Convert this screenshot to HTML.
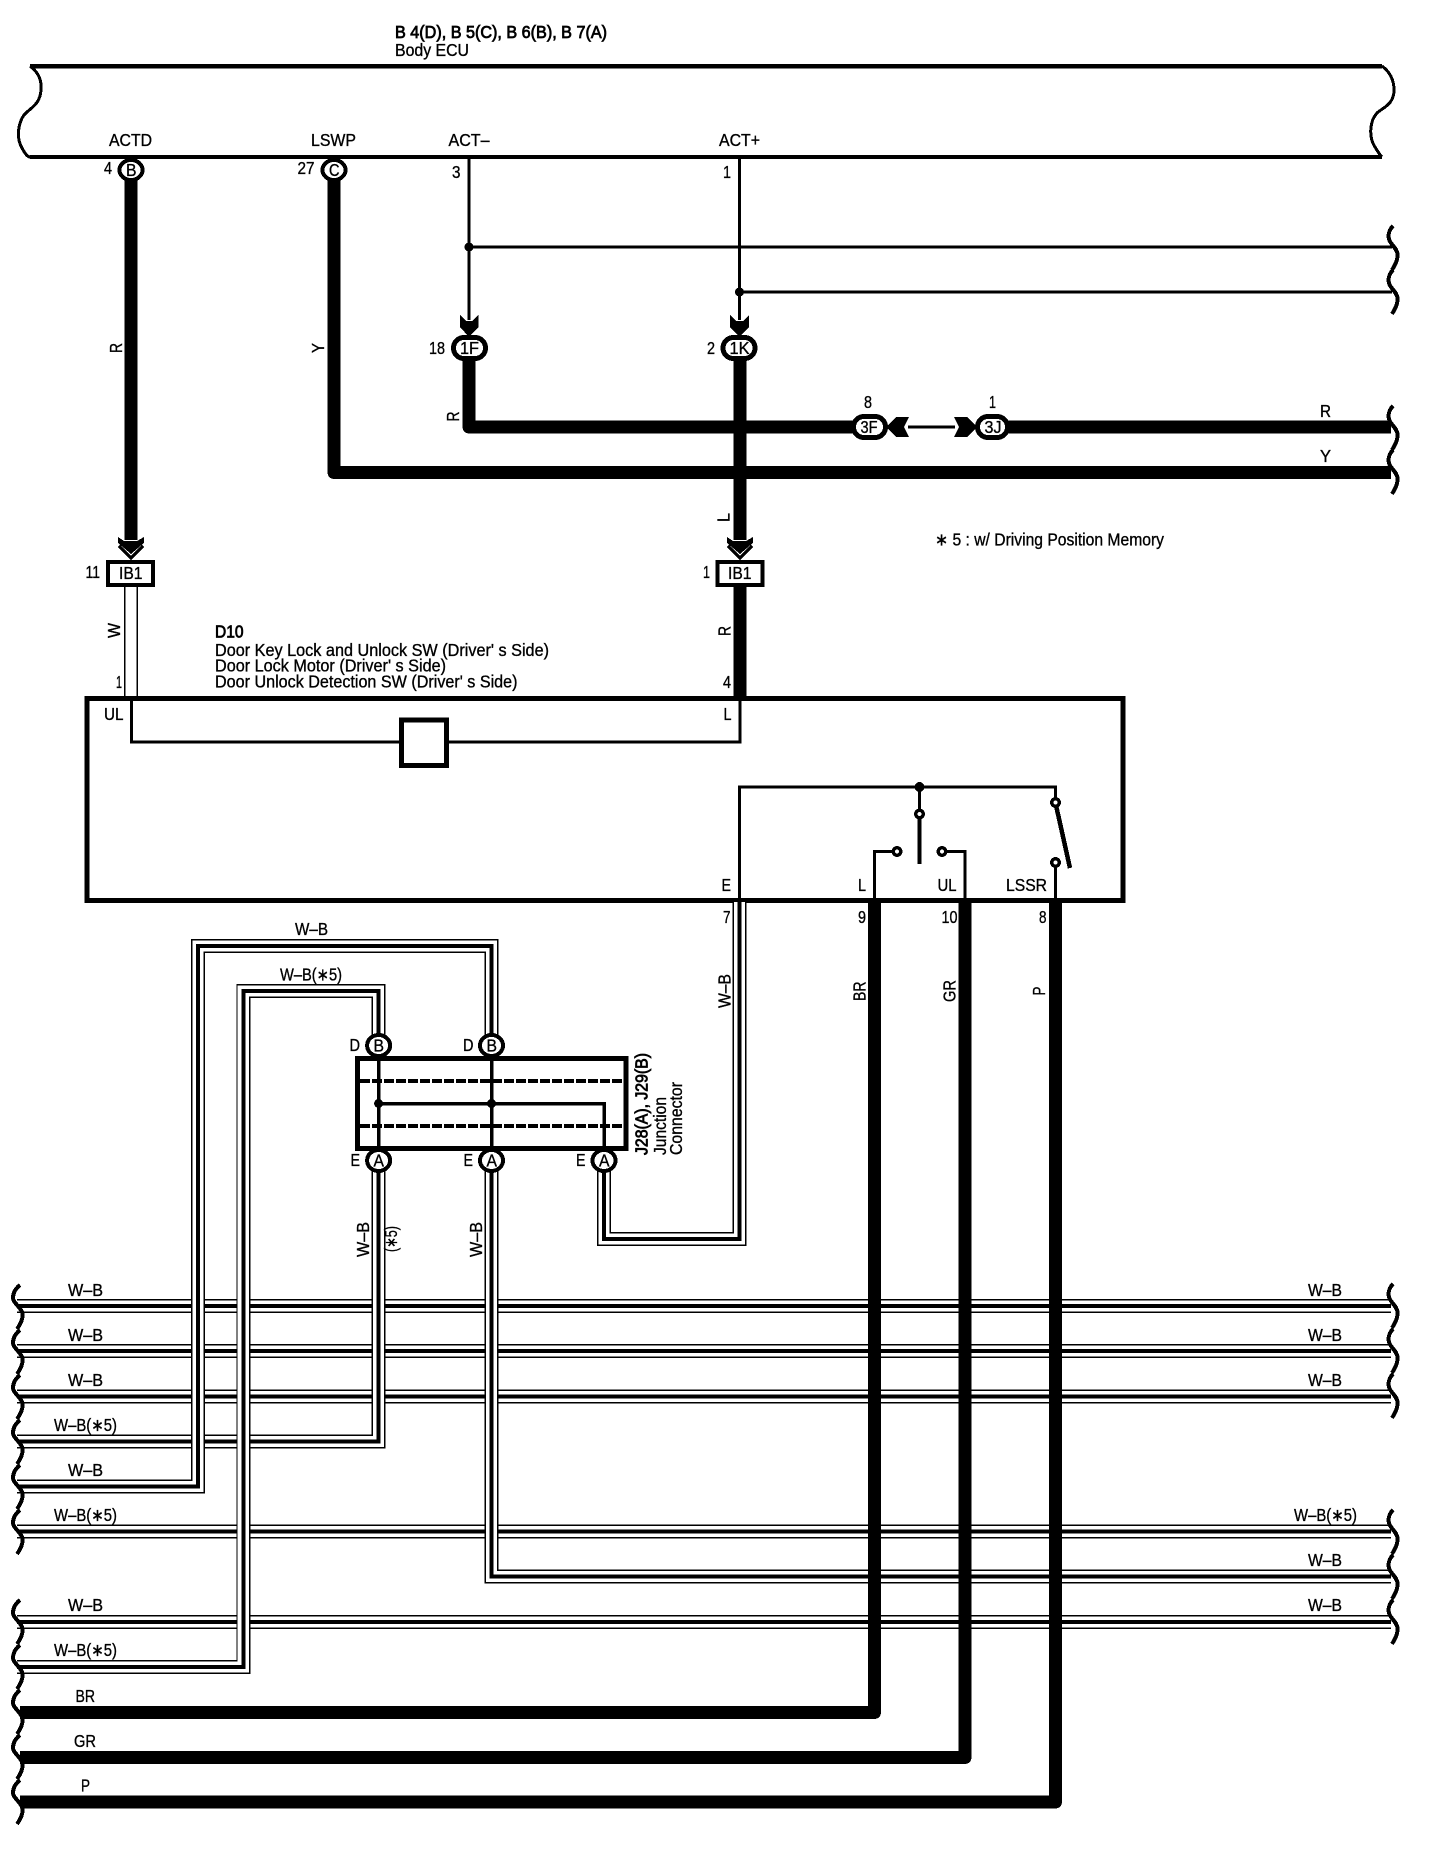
<!DOCTYPE html>
<html><head><meta charset="utf-8"><style>
html,body{margin:0;padding:0;background:#fff}
svg{display:block}
text{font-family:"Liberation Sans",sans-serif;font-size:17.5px;fill:#000;stroke:#000;stroke-width:.35}
.b{stroke-width:.8}
.o{fill:#fff;stroke:#000;stroke-width:5}
ellipse.o{stroke-width:4}
.th{fill:none;stroke:#000;stroke-width:13;stroke-linejoin:round}
.ln{fill:none;stroke:#000;stroke-width:3}
.w1{fill:none;stroke:#000;stroke-width:14}
.w2{fill:none;stroke:#fff;stroke-width:11.2}
.w3{fill:none;stroke:#000;stroke-width:4}
.wave{fill:none;stroke:#000;stroke-width:4}
</style></head><body>
<svg xmlns="http://www.w3.org/2000/svg" width="1440" height="1854" viewBox="0 0 1440 1854" shape-rendering="crispEdges">
<rect width="1440" height="1854" fill="#fff"/>
<defs>
<path id="wr" d="M1393 0C1389 4 1388 9 1389 13C1390 18 1397 22 1397.5 28C1398 34 1395 39 1392 44" class="wave"/>
<path id="wl" d="M20 0C15 4 13 8 13 13C13 18 22 23 22.5 29C23 35 20 40 17 44" class="wave"/>
</defs>

<!-- ECU -->
<path d="M30 66H1382" fill="none" stroke="#000" stroke-width="4.5"/>
<path d="M30 157H1382" fill="none" stroke="#000" stroke-width="4"/>
<path d="M30 66C38 72 42 80 41 90C40 105 30 108 24 115C17 125 17 140 22 148C25 154 28 157 30 157" fill="none" stroke="#000" stroke-width="3"/>
<path d="M1382 66C1390 72 1394 80 1394 90C1394 105 1382 108 1377 113C1369 122 1369 138 1375 147C1378 152 1380 155 1382 157" fill="none" stroke="#000" stroke-width="3"/>
<text class="b" x="395" y="38" textLength="212" lengthAdjust="spacingAndGlyphs">B 4(D), B 5(C), B 6(B), B 7(A)</text>
<text x="395" y="56" textLength="74" lengthAdjust="spacingAndGlyphs">Body ECU</text>
<text x="109" y="146" textLength="43" lengthAdjust="spacingAndGlyphs">ACTD</text>
<text x="311" y="146" textLength="45" lengthAdjust="spacingAndGlyphs">LSWP</text>
<text x="448.5" y="146" textLength="41" lengthAdjust="spacingAndGlyphs">ACT–</text>
<text x="719" y="146" textLength="41" lengthAdjust="spacingAndGlyphs">ACT+</text>
<text x="104" y="174" textLength="8" lengthAdjust="spacingAndGlyphs">4</text>
<text x="297.5" y="174" textLength="17" lengthAdjust="spacingAndGlyphs">27</text>
<text x="452" y="178" textLength="8.5" lengthAdjust="spacingAndGlyphs">3</text>
<text x="723" y="178" textLength="8" lengthAdjust="spacingAndGlyphs">1</text>

<!-- top wires -->
<path class="th" d="M131 180V540"/>
<path class="th" d="M334 180V472.5H1391"/>
<path class="th" d="M469 358V427H855"/>
<path class="th" d="M1006 427H1391"/>
<path class="th" d="M740 358V540"/>
<path class="ln" d="M469 157V320M469 247H1392M739.5 157V320M739.5 292H1392" stroke-width="3.5"/>
<path class="ln" d="M908 427H955"/>
<circle cx="469" cy="247" r="4.5"/>
<circle cx="739.5" cy="292" r="4.5"/>

<!-- arrows down into 1F/1K -->
<path d="M460 315L466 321H472L478.5 315V327L469 337L460 327Z"/>
<path d="M730 315L736 321H743L749 315V327L739.5 337L730 327Z"/>
<!-- 3F / 3J arrows -->
<path d="M886 427L896 417H909L904 427L909 437H896Z"/>
<path d="M977 427L967 417H954L959 427L954 437H967Z"/>
<!-- IB1 arrows -->
<path d="M118 537L124 541H137L144 537V543L131 554L118 543Z"/>
<path d="M119 546L131 558L143 546" fill="none" stroke="#000" stroke-width="3"/>
<path d="M727 537L733 541H746L753 537V543L740 554L727 543Z"/>
<path d="M728 546L740 558L752 546" fill="none" stroke="#000" stroke-width="3"/>

<!-- connectors top -->
<ellipse class="o" cx="131" cy="170" rx="11.5" ry="10"/>
<ellipse class="o" cx="334" cy="170" rx="11.5" ry="10"/>
<text x="126" y="176" textLength="10.5" lengthAdjust="spacingAndGlyphs">B</text>
<text x="329" y="176" textLength="10.5" lengthAdjust="spacingAndGlyphs">C</text>
<rect class="o" x="453.5" y="337.5" width="32" height="21" rx="10.5"/>
<rect class="o" x="723" y="337.5" width="32" height="21" rx="10.5"/>
<rect class="o" x="853.5" y="416.5" width="32" height="21" rx="10.5"/>
<rect class="o" x="977.5" y="416.5" width="30" height="21" rx="10.5"/>
<text x="460" y="354" textLength="19" lengthAdjust="spacingAndGlyphs">1F</text>
<text x="729.5" y="354" textLength="20" lengthAdjust="spacingAndGlyphs">1K</text>
<text x="860.5" y="433" textLength="17" lengthAdjust="spacingAndGlyphs">3F</text>
<text x="984.5" y="433" textLength="17" lengthAdjust="spacingAndGlyphs">3J</text>
<text x="429" y="354" textLength="16" lengthAdjust="spacingAndGlyphs">18</text>
<text x="707" y="354" textLength="8" lengthAdjust="spacingAndGlyphs">2</text>
<text x="864" y="408" textLength="8" lengthAdjust="spacingAndGlyphs">8</text>
<text x="989" y="408" textLength="7" lengthAdjust="spacingAndGlyphs">1</text>
<text x="1320" y="417" textLength="11" lengthAdjust="spacingAndGlyphs">R</text>
<text x="1320" y="462" textLength="11" lengthAdjust="spacingAndGlyphs">Y</text>
<text x="935" y="545.5" textLength="229" lengthAdjust="spacingAndGlyphs">∗ 5 : w/ Driving Position Memory</text>

<!-- rotated labels top -->
<text transform="translate(122 353) rotate(-90)" textLength="10" lengthAdjust="spacingAndGlyphs">R</text>
<text transform="translate(324 353) rotate(-90)" textLength="10" lengthAdjust="spacingAndGlyphs">Y</text>
<text transform="translate(459 421.5) rotate(-90)" textLength="10" lengthAdjust="spacingAndGlyphs">R</text>
<text transform="translate(729.5 522) rotate(-90)" textLength="9" lengthAdjust="spacingAndGlyphs">L</text>
<text transform="translate(120 638) rotate(-90)" textLength="15" lengthAdjust="spacingAndGlyphs">W</text>
<text transform="translate(730.5 636) rotate(-90)" textLength="10" lengthAdjust="spacingAndGlyphs">R</text>

<!-- IB1 -->
<rect x="108" y="562" width="45" height="23" fill="#fff" stroke="#000" stroke-width="4"/>
<rect x="717.5" y="562" width="45" height="23" fill="#fff" stroke="#000" stroke-width="4"/>
<text x="119" y="579" textLength="23.5" lengthAdjust="spacingAndGlyphs">IB1</text>
<text x="728" y="579" textLength="23.5" lengthAdjust="spacingAndGlyphs">IB1</text>
<text x="85.5" y="578" textLength="14.5" lengthAdjust="spacingAndGlyphs">11</text>
<text x="703" y="578" textLength="7" lengthAdjust="spacingAndGlyphs">1</text>
<path d="M124.7 587V697M137 587V697" fill="none" stroke="#000" stroke-width="1.5"/>
<rect x="733.5" y="587" width="13" height="110"/>

<!-- D10 labels -->
<text class="b" x="215" y="637.5" textLength="28.5" lengthAdjust="spacingAndGlyphs">D10</text>
<text x="215" y="656" textLength="334" lengthAdjust="spacingAndGlyphs">Door Key Lock and Unlock SW (Driver'  s Side)</text>
<text x="215" y="671.5" textLength="231" lengthAdjust="spacingAndGlyphs">Door Lock Motor (Driver'  s Side)</text>
<text x="215" y="687.5" textLength="302.5" lengthAdjust="spacingAndGlyphs">Door Unlock Detection SW (Driver'  s Side)</text>
<text x="116" y="688" textLength="6" lengthAdjust="spacingAndGlyphs">1</text>
<text x="723" y="688" textLength="8" lengthAdjust="spacingAndGlyphs">4</text>

<!-- main box -->
<rect x="87" y="698.5" width="1036" height="202" fill="none" stroke="#000" stroke-width="5"/>
<path class="ln" d="M131.5 700V742H740V700"/>
<rect x="401.5" y="720" width="45" height="45.5" fill="#fff" stroke="#000" stroke-width="5"/>
<text x="104" y="720" textLength="19.5" lengthAdjust="spacingAndGlyphs">UL</text>
<text x="723.5" y="720" textLength="8" lengthAdjust="spacingAndGlyphs">L</text>
<text x="721.5" y="891" textLength="9.5" lengthAdjust="spacingAndGlyphs">E</text>
<text x="858" y="891" textLength="8" lengthAdjust="spacingAndGlyphs">L</text>
<text x="937.5" y="891" textLength="19" lengthAdjust="spacingAndGlyphs">UL</text>
<text x="1006" y="891" textLength="41" lengthAdjust="spacingAndGlyphs">LSSR</text>
<text x="723" y="923" textLength="7.5" lengthAdjust="spacingAndGlyphs">7</text>
<text x="858" y="923" textLength="8" lengthAdjust="spacingAndGlyphs">9</text>
<text x="941.5" y="923" textLength="16" lengthAdjust="spacingAndGlyphs">10</text>
<text x="1039" y="923" textLength="7.5" lengthAdjust="spacingAndGlyphs">8</text>

<!-- switches -->
<path class="ln" d="M739.5 900V787H1055.5V802M919.5 787V814"/>
<circle cx="919.5" cy="787" r="5"/>
<path d="M919.5 814V864" fill="none" stroke="#000" stroke-width="4"/>
<path class="ln" d="M874.5 900V851.5H897M965 900V851.5H942M1055.5 863V900"/>
<path d="M1055.5 803L1070 868" fill="none" stroke="#000" stroke-width="4.5"/>
<circle cx="919.5" cy="814" r="3.7" fill="#fff" stroke="#000" stroke-width="3.5"/>
<circle cx="897" cy="851.5" r="3.7" fill="#fff" stroke="#000" stroke-width="3.5"/>
<circle cx="942" cy="851.5" r="3.7" fill="#fff" stroke="#000" stroke-width="3.5"/>
<circle cx="1055.5" cy="802.5" r="3.7" fill="#fff" stroke="#000" stroke-width="3.5"/>
<circle cx="1055.5" cy="862.5" r="3.7" fill="#fff" stroke="#000" stroke-width="3.5"/>

<!-- W-B horizontal buses -->
<path class="w1" d="M17 1306H1391M17 1351H1391M17 1396.5H1391M17 1531.5H1391M17 1622H1391"/>
<path class="w2" d="M17 1306H1391M17 1351H1391M17 1396.5H1391M17 1531.5H1391M17 1622H1391"/>
<path class="w3" d="M17 1306H1391M17 1351H1391M17 1396.5H1391M17 1531.5H1391M17 1622H1391"/>

<!-- wire 1576 + 491 -->
<path class="w1" d="M491.5 1170V1576.5H1391"/><path class="w2" d="M491.5 1170V1576.5H1391"/><path class="w3" d="M491.5 1170V1576.5H1391"/>
<!-- wire 1441 + 379 -->
<path class="w1" d="M17 1441.5H378.6V1170"/><path class="w2" d="M17 1441.5H378.6V1170"/><path class="w3" d="M17 1441.5H378.6V1170"/>
<!-- wire 1486 up to top B -->
<path class="w1" d="M17 1486.5H198V946H491.5V1035"/><path class="w2" d="M17 1486.5H198V946H491.5V1035"/><path class="w3" d="M17 1486.5H198V946H491.5V1035"/>
<!-- wire 1667 up to top B -->
<path class="w1" d="M17 1667H243.3V991H378.6V1035"/><path class="w2" d="M17 1667H243.3V991H378.6V1035"/><path class="w3" d="M17 1667H243.3V991H378.6V1035"/>
<!-- wire 7 to E-A -->
<path class="w1" d="M604 1170V1239H739.5V902"/><path class="w2" d="M604 1170V1239H739.5V902"/><path class="w3" d="M604 1170V1239H739.5V902"/>

<!-- thick bottom -->
<path class="th" d="M20 1712.5H874.5V902"/>
<path class="th" d="M20 1757.5H965V902"/>
<path class="th" d="M20 1802H1055.5V902"/>

<!-- Junction -->
<rect x="357.5" y="1058.5" width="268.5" height="90" fill="#fff" stroke="#000" stroke-width="5"/>
<path d="M360 1081H625M360 1126H625" fill="none" stroke="#000" stroke-width="4" stroke-dasharray="10 2"/>
<path d="M378.6 1058V1150M491.5 1058V1150M378.6 1103.5H604V1150" fill="none" stroke="#000" stroke-width="3.5"/>
<circle cx="378.6" cy="1103.5" r="4.5"/>
<circle cx="491.5" cy="1103.5" r="4.5"/>
<ellipse class="o" cx="378.6" cy="1045.5" rx="11.5" ry="10.5"/>
<ellipse class="o" cx="491.5" cy="1045.5" rx="11.5" ry="10.5"/>
<ellipse class="o" cx="378.6" cy="1160.5" rx="11.5" ry="10.5"/>
<ellipse class="o" cx="491.5" cy="1160.5" rx="11.5" ry="10.5"/>
<ellipse class="o" cx="604" cy="1160.5" rx="11.5" ry="10.5"/>
<text x="373.5" y="1051.5" textLength="10.5" lengthAdjust="spacingAndGlyphs">B</text>
<text x="486.5" y="1051.5" textLength="10.5" lengthAdjust="spacingAndGlyphs">B</text>
<text x="373.5" y="1166.5" textLength="10.5" lengthAdjust="spacingAndGlyphs">A</text>
<text x="486.5" y="1166.5" textLength="10.5" lengthAdjust="spacingAndGlyphs">A</text>
<text x="599" y="1166.5" textLength="10.5" lengthAdjust="spacingAndGlyphs">A</text>
<text x="349.5" y="1051" textLength="10.5" lengthAdjust="spacingAndGlyphs">D</text>
<text x="463" y="1051" textLength="10.5" lengthAdjust="spacingAndGlyphs">D</text>
<text x="350.5" y="1166" textLength="9.5" lengthAdjust="spacingAndGlyphs">E</text>
<text x="463.5" y="1166" textLength="9.5" lengthAdjust="spacingAndGlyphs">E</text>
<text x="576" y="1166" textLength="9.5" lengthAdjust="spacingAndGlyphs">E</text>

<text class="b" transform="translate(647.5 1155) rotate(-90)" textLength="102" lengthAdjust="spacingAndGlyphs">J28(A), J29(B)</text>
<text transform="translate(666 1155) rotate(-90)" textLength="58" lengthAdjust="spacingAndGlyphs">Junction</text>
<text transform="translate(682 1155) rotate(-90)" textLength="73" lengthAdjust="spacingAndGlyphs">Connector</text>

<text x="295" y="935" textLength="33" lengthAdjust="spacingAndGlyphs">W–B</text>
<text x="280" y="980.5" textLength="62" lengthAdjust="spacingAndGlyphs">W–B(∗5)</text>
<text transform="translate(730.5 1008) rotate(-90)" textLength="34" lengthAdjust="spacingAndGlyphs">W–B</text>
<text transform="translate(865.5 1001) rotate(-90)" textLength="19.5" lengthAdjust="spacingAndGlyphs">BR</text>
<text transform="translate(955.5 1002) rotate(-90)" textLength="22" lengthAdjust="spacingAndGlyphs">GR</text>
<text transform="translate(1045 995.5) rotate(-90)" textLength="9" lengthAdjust="spacingAndGlyphs">P</text>
<text transform="translate(369 1257) rotate(-90)" textLength="35" lengthAdjust="spacingAndGlyphs">W–B</text>
<text transform="translate(397 1252) rotate(-90)" textLength="26" lengthAdjust="spacingAndGlyphs">(∗5)</text>
<text transform="translate(482 1257) rotate(-90)" textLength="35" lengthAdjust="spacingAndGlyphs">W–B</text>

<!-- left labels -->
<text x="68" y="1296" textLength="35" lengthAdjust="spacingAndGlyphs">W–B</text>
<text x="68" y="1341" textLength="35" lengthAdjust="spacingAndGlyphs">W–B</text>
<text x="68" y="1386" textLength="35" lengthAdjust="spacingAndGlyphs">W–B</text>
<text x="54" y="1431" textLength="63" lengthAdjust="spacingAndGlyphs">W–B(∗5)</text>
<text x="68" y="1476" textLength="35" lengthAdjust="spacingAndGlyphs">W–B</text>
<text x="54" y="1521" textLength="63" lengthAdjust="spacingAndGlyphs">W–B(∗5)</text>
<text x="68" y="1611" textLength="35" lengthAdjust="spacingAndGlyphs">W–B</text>
<text x="54" y="1656" textLength="63" lengthAdjust="spacingAndGlyphs">W–B(∗5)</text>
<text x="75.5" y="1702" textLength="19.5" lengthAdjust="spacingAndGlyphs">BR</text>
<text x="74" y="1747" textLength="22" lengthAdjust="spacingAndGlyphs">GR</text>
<text x="81" y="1791.5" textLength="9" lengthAdjust="spacingAndGlyphs">P</text>

<!-- right labels -->
<text x="1308" y="1296" textLength="34" lengthAdjust="spacingAndGlyphs">W–B</text>
<text x="1308" y="1341" textLength="34" lengthAdjust="spacingAndGlyphs">W–B</text>
<text x="1308" y="1386" textLength="34" lengthAdjust="spacingAndGlyphs">W–B</text>
<text x="1294" y="1521" textLength="63" lengthAdjust="spacingAndGlyphs">W–B(∗5)</text>
<text x="1308" y="1566" textLength="34" lengthAdjust="spacingAndGlyphs">W–B</text>
<text x="1308" y="1611" textLength="34" lengthAdjust="spacingAndGlyphs">W–B</text>

<!-- waves right -->
<use href="#wr" y="226"/><use href="#wr" y="270"/>
<use href="#wr" y="406"/><use href="#wr" y="450"/>
<use href="#wr" y="1284"/><use href="#wr" y="1329"/><use href="#wr" y="1374"/>
<use href="#wr" y="1510"/><use href="#wr" y="1555"/><use href="#wr" y="1600"/>
<!-- waves left -->
<use href="#wl" y="1285"/><use href="#wl" y="1330"/><use href="#wl" y="1375"/><use href="#wl" y="1420"/><use href="#wl" y="1465"/><use href="#wl" y="1510"/>
<use href="#wl" y="1600"/><use href="#wl" y="1645"/><use href="#wl" y="1690"/><use href="#wl" y="1735"/><use href="#wl" y="1780"/>
</svg>
</body></html>
